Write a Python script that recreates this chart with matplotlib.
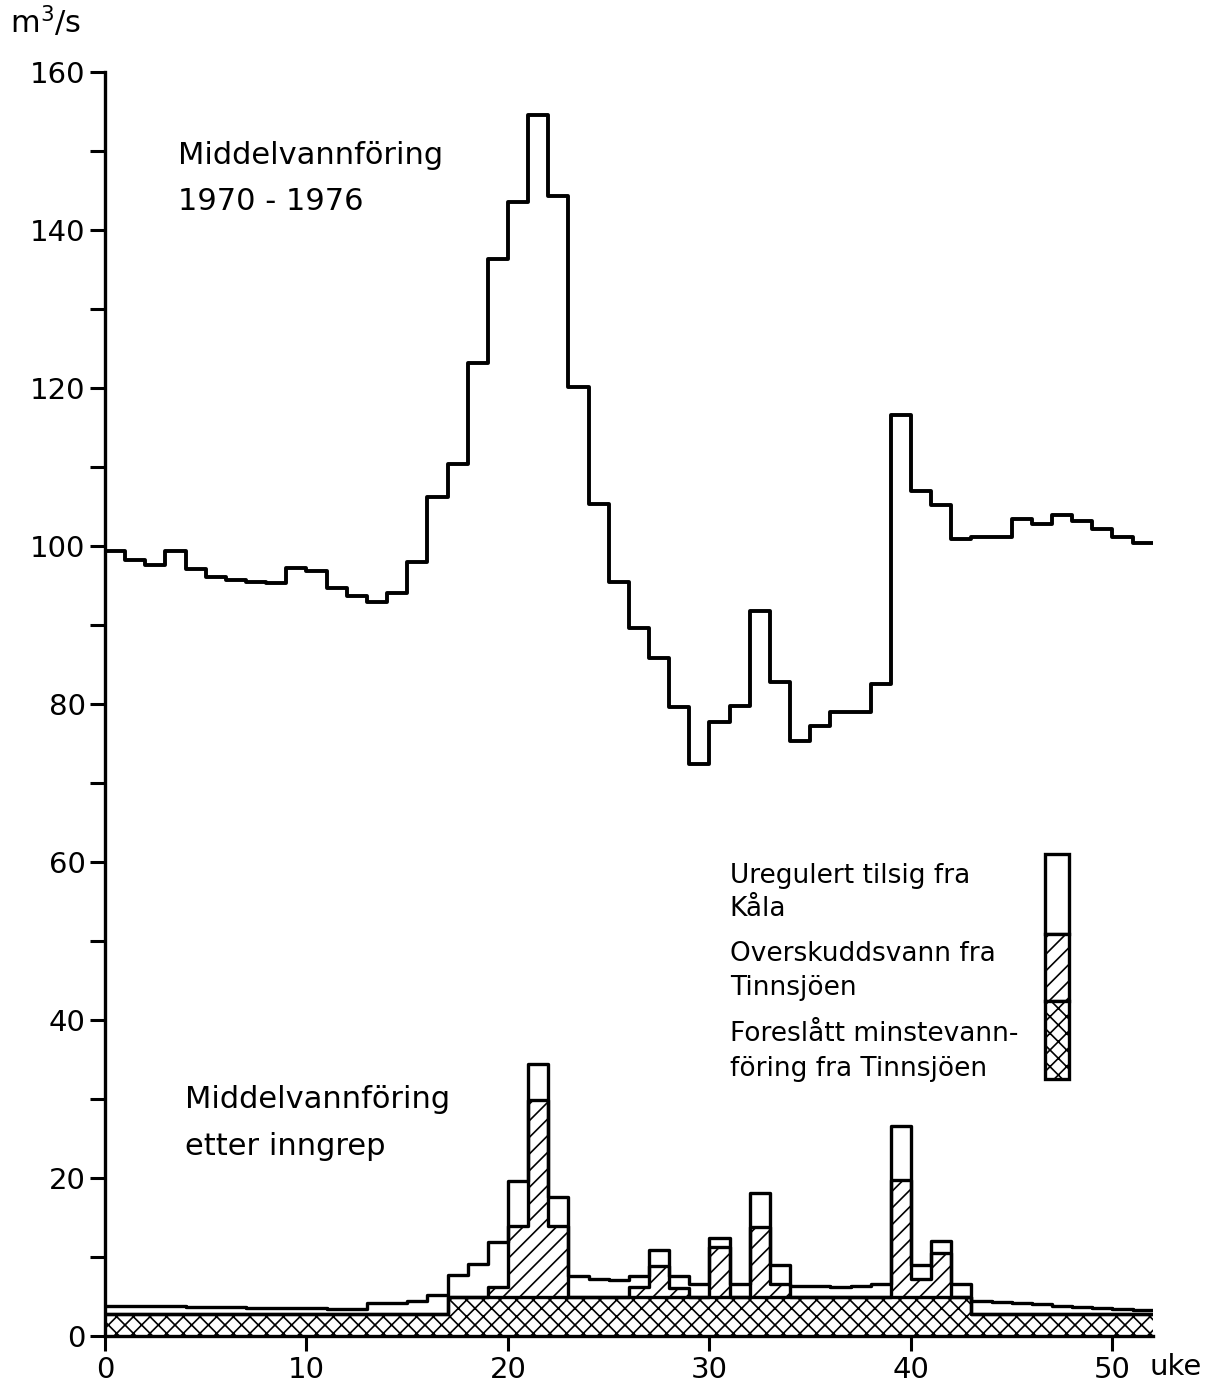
import numpy as np
import matplotlib
matplotlib.use("Agg")
import matplotlib.pyplot as plt
from matplotlib.patches import Rectangle

plt.rcParams['font.family'] = ['DejaVu Sans']
plt.rcParams['hatch.linewidth'] = 1.2

# week edges 0..52
weeks = np.arange(53)

# Middelvannföring 1970-1976, m3/s, one value per week
mean_flow = [99.4, 98.2, 97.6, 99.4, 97.1, 96.1, 95.7, 95.5, 95.3, 97.2,
             96.8, 94.7, 93.7, 92.9, 94.1, 98.0, 106.2, 110.4, 123.2, 136.3,
             143.6, 154.6, 144.3, 120.2, 105.3, 95.5, 89.7, 85.8, 79.6, 72.5,
             77.8, 79.8, 91.8, 82.8, 75.3, 77.2, 79.0, 79.0, 82.6, 116.6,
             107.0, 105.2, 100.9, 101.1, 101.2, 103.5, 102.8, 104.0, 103.2, 102.2,
             101.2, 100.4]

# after inngrep: three stacked parts
min_flow = [2.9] * 17 + [5.0] * 26 + [2.8] * 9      # foreslått minstevannföring
surplus = [0, 0, 0, 0, 0, 0, 0, 0, 0, 0,
           0, 0, 0, 0, 0, 0, 0, 0, 0, 1.2,
           9.0, 24.9, 9.0, 0, 0, 0, 1.3, 3.9, 1.1, 0,
           6.3, 0, 8.9, 1.7, 0, 0, 0, 0, 0, 14.8,
           2.3, 5.6, 0, 0, 0, 0, 0, 0, 0, 0,
           0, 0]                                      # overskuddsvann
unregulated = [1.0, 0.95, 0.9, 0.9, 0.85, 0.8, 0.8, 0.75, 0.7, 0.7,
               0.65, 0.6, 0.6, 1.3, 1.3, 1.6, 2.4, 2.8, 4.2, 5.7,
               5.7, 4.6, 3.7, 2.6, 2.3, 2.1, 1.4, 2.1, 1.6, 1.7,
               1.2, 1.7, 4.3, 2.3, 1.4, 1.4, 1.3, 1.4, 1.6, 6.8,
               1.7, 1.5, 1.6, 1.7, 1.55, 1.4, 1.25, 1.1, 0.95, 0.8,
               0.65, 0.5]                                 # uregulert tilsig

legend_lines = ['Uregulert tilsig fra', 'Kåla',
                'Overskuddsvann fra', 'Tinnsjöen',
                'Foreslått minstevann-', 'föring fra Tinnsjöen']


def ext(v):
    v = np.asarray(v, dtype=float)
    return np.append(v, v[-1])


lvl1 = np.array(min_flow)
lvl2 = lvl1 + np.array(surplus)
lvl3 = lvl2 + np.array(unregulated)

fig = plt.figure(figsize=(12.15, 13.9), dpi=100)
ax = fig.add_axes([0.0864, 0.0385, 0.8624, 0.9097])

lw = 2.4
ax.fill_between(weeks, 0, ext(lvl1), step='post', facecolor='white',
                edgecolor='black', hatch='xx', linewidth=0)
ax.fill_between(weeks, ext(lvl1), ext(lvl2), step='post', facecolor='white',
                edgecolor='black', hatch='//', linewidth=0)
for lv in (lvl1, lvl2, lvl3):
    ax.step(weeks, ext(lv), where='post', color='black', lw=lw)

ax.step(weeks, ext(mean_flow), where='post', color='black', lw=2.8)

# legend box
bx, bw = 46.65, 1.2
ax.add_patch(Rectangle((bx, 50.9), bw, 10.1, facecolor='white',
                       edgecolor='black', lw=lw, clip_on=False))
ax.add_patch(Rectangle((bx, 42.4), bw, 8.5, facecolor='white', hatch='//',
                       edgecolor='black', lw=lw, clip_on=False))
ax.add_patch(Rectangle((bx, 32.6), bw, 9.8, facecolor='white', hatch='xx',
                       edgecolor='black', lw=lw, clip_on=False))

for txt, yb in zip(legend_lines, [57.4, 53.2, 47.5, 43.2, 37.4, 33.0]):
    ax.text(31.0, yb, txt, fontsize=19, va='baseline', ha='left')

ax.text(3.6, 148.3, 'Middelvannföring', fontsize=22, va='baseline')
ax.text(3.6, 142.6, '1970 - 1976', fontsize=22, va='baseline')
ax.text(3.95, 28.9, 'Middelvannföring', fontsize=22, va='baseline')
ax.text(3.95, 23.0, 'etter inngrep', fontsize=22, va='baseline')

ax.set_xlim(0, 52)
ax.set_ylim(0, 160)
ax.set_xticks(range(0, 51, 10))
ax.set_yticks(range(0, 161, 20))
ax.set_yticks(range(10, 160, 20), minor=True)
ax.tick_params(axis='both', which='major', direction='out', length=11,
               width=2.2, labelsize=21, pad=3)
ax.tick_params(axis='y', which='minor', direction='out', length=11, width=2.2)
for s in ('top', 'right'):
    ax.spines[s].set_visible(False)
for s in ('left', 'bottom'):
    ax.spines[s].set_linewidth(2.4)

fig.text(10 / 1215, 1 - 33 / 1390, 'm$^3$/s', fontsize=22, va='baseline')
fig.text(1150 / 1215, 1 - 1375 / 1390, 'uke', fontsize=21, va='baseline')

fig.savefig('out.png', dpi=100)
